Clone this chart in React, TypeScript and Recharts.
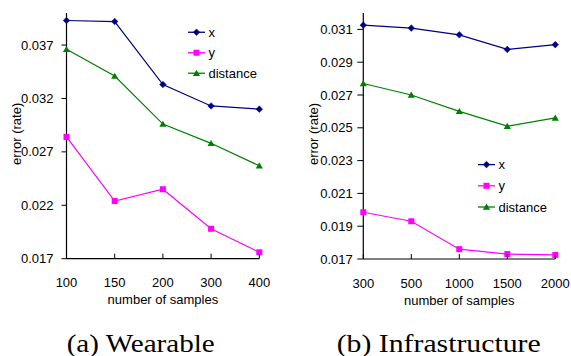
import React from 'react';
import { LineChart, Line, XAxis, YAxis, Legend, Label } from 'recharts';

// ---- Data: (a) Wearable ----
const wearableCategories = ['100', '150', '200', '300', '400'];
const wearableX = [0.0393, 0.0392, 0.0333, 0.0313, 0.0310];
const wearableY = [0.0284, 0.0224, 0.0235, 0.0198, 0.0176];
const wearableDistance = [0.0366, 0.0341, 0.0296, 0.0278, 0.0257];
const wearableTicks = [0.017, 0.022, 0.027, 0.032, 0.037];
const wearableDomain = [0.017, 0.040];

// ---- Data: (b) Infrastructure ----
const infraCategories = ['300', '500', '1000', '1500', '2000'];
const infraX = [0.03126, 0.03108, 0.03067, 0.02978, 0.03007];
const infraY = [0.01985, 0.01930, 0.01760, 0.01730, 0.01725];
const infraDistance = [0.0277, 0.0270, 0.0260, 0.0251, 0.0256];
const infraTicks = [0.017, 0.019, 0.021, 0.023, 0.025, 0.027, 0.029, 0.031];
const infraDomain = [0.017, 0.032];

const seriesNames = ['x', 'y', 'distance'];
const captions = ['(a) Wearable', '(b) Infrastructure'];
const xTitle = 'number of samples';
const yTitle = 'error (rate)';

const COLORS: Record<string, string> = { x: '#000080', y: '#ff00ff', distance: '#008000' };
const SANS = '"Liberation Sans", Arial, Helvetica, sans-serif';
const SERIF = '"Liberation Serif", "Times New Roman", serif';

function buildRows(cats: string[], x: number[], y: number[], d: number[]) {
  return cats.map((c, i) => ({ category: c, x: x[i], y: y[i], distance: d[i] }));
}

function Marker({ kind, cx, cy }: { kind: string; cx: number; cy: number }) {
  const color = COLORS[kind];
  if (kind === 'x') {
    const r = 3.3;
    return <path d={`M${cx},${cy - r}L${cx + r},${cy}L${cx},${cy + r}L${cx - r},${cy}Z`} fill={color} stroke={color} strokeWidth={0.5} />;
  }
  if (kind === 'y') {
    const s = 3;
    return <rect x={cx - s} y={cy - s} width={2 * s} height={2 * s} fill={color} />;
  }
  const h = 3.4;
  return <path d={`M${cx},${cy - h}L${cx + 3.6},${cy + h * 0.8}L${cx - 3.6},${cy + h * 0.8}Z`} fill={color} />;
}

function makeDot(kind: string) {
  return (p: any) => {
    if (p.cx == null || p.cy == null) return <g key={`${kind}-${p.index}`} />;
    return <Marker key={`${kind}-${p.index}`} kind={kind} cx={p.cx} cy={p.cy} />;
  };
}

function makeLegend(rowGap: number) {
  return (props: any) => {
    const payload = ([...(props.payload || [])] as any[]).sort(
      (a, b) => seriesNames.indexOf(String(a.dataKey ?? a.value)) - seriesNames.indexOf(String(b.dataKey ?? b.value))
    );
    const h = rowGap * 3;
    return (
      <svg width={90} height={h} style={{ overflow: 'visible', display: 'block' }}>
        {payload.map((item: any, i: number) => {
          const kind = String(item.dataKey ?? item.value);
          const cy = rowGap / 2 + i * rowGap;
          return (
            <g key={kind}>
              <line x1={2} x2={19} y1={cy} y2={cy} stroke={COLORS[kind]} strokeWidth={1.3} />
              <Marker kind={kind} cx={10.5} cy={cy} />
              <text x={22.5} y={cy} dominantBaseline="central" fontSize={13} fontFamily={SANS} fill="#000">
                {item.value}
              </text>
            </g>
          );
        })}
      </svg>
    );
  };
}

function makeXTick() {
  return (p: any) => {
    const { x, y, payload } = p;
    return (
      <g>
        <line x1={x} x2={x} y1={y - 7} y2={y - 12} stroke="#000" strokeWidth={1} />
        <text x={x} y={y + 21.6} textAnchor="middle" fontSize={13} fontFamily={SANS} fill="#000">
          {payload.value}
        </text>
      </g>
    );
  };
}

type PanelProps = {
  rows: any[];
  ticks: number[];
  domain: number[];
  width: number;
  marginRight: number;
  marginBottom: number;
  yAxisWidth: number;
  yTickSize: number;
  yTickMargin: number;
  yLabelOffset: number;
  legendLeft: number;
  legendTop: number;
  legendGap: number;
};

function Panel(props: PanelProps) {
  const H = 320;
  return (
    <LineChart
      width={props.width}
      height={H}
      data={props.rows}
      margin={{ top: 13, right: props.marginRight, bottom: props.marginBottom, left: 10 }}
    >
      <XAxis
        dataKey="category"
        type="category"
        scale="point"
        padding={{ left: 0, right: 0 }}
        height={50}
        axisLine={{ stroke: '#000', strokeWidth: 1.2 }}
        tickLine={false}
        tickSize={5}
        tickMargin={2}
        tick={makeXTick()}
        interval={0}
      >
        <Label
          content={(lp: any) => {
            const vb = lp.viewBox || {};
            return (
              <text x={vb.x + vb.width / 2} y={vb.y + 45.5} textAnchor="middle" fontSize={13} fontFamily={SANS} fill="#000">
                {xTitle}
              </text>
            );
          }}
        />
      </XAxis>
      <YAxis
        type="number"
        domain={props.domain}
        ticks={props.ticks}
        allowDataOverflow
        width={props.yAxisWidth}
        axisLine={{ stroke: '#000', strokeWidth: 1.2 }}
        tickLine={{ stroke: '#000' }}
        tickSize={props.yTickSize}
        tickMargin={props.yTickMargin}
        tick={{ fontSize: 13, fontFamily: SANS, fill: '#000' }}
        tickFormatter={(v: number) => v.toFixed(3)}
        interval={0}
      >
        <Label
          content={(lp: any) => {
            const vb = lp.viewBox || {};
            const cx = vb.x + props.yLabelOffset;
            const cy = vb.y + vb.height / 2 - 2;
            return (
              <text
                x={cx}
                y={cy}
                transform={`rotate(-90, ${cx}, ${cy})`}
                textAnchor="middle"
                dominantBaseline="central"
                fontSize={13}
                fontFamily={SANS}
                fill="#000"
              >
                {yTitle}
              </text>
            );
          }}
        />
      </YAxis>
      <Legend
        layout="vertical"
        align="center"
        verticalAlign="middle"
        itemSorter={null as any}
        wrapperStyle={{ left: props.legendLeft, top: props.legendTop, width: 90, right: 'auto', bottom: 'auto' }}
        content={makeLegend(props.legendGap)}
      />
      {seriesNames.map((name) => (
        <Line
          key={name}
          dataKey={name}
          name={name}
          stroke={COLORS[name]}
          strokeWidth={1.2}
          dot={makeDot(name)}
          activeDot={false}
          isAnimationActive={false}
          type="linear"
        />
      ))}
    </LineChart>
  );
}

export default function App() {
  const leftRows = buildRows(wearableCategories, wearableX, wearableY, wearableDistance);
  const rightRows = buildRows(infraCategories, infraX, infraY, infraDistance);
  return (
    <div style={{ position: 'absolute', left: 0, top: 0, width: 571, height: 356, background: '#fff', overflow: 'hidden' }}>
      <div style={{ position: 'absolute', left: 0, top: 0 }}>
        <Panel
          rows={leftRows}
          ticks={wearableTicks}
          domain={wearableDomain}
          width={290}
          marginRight={30.7}
          marginBottom={11.3}
          yAxisWidth={56.5}
          yTickSize={5}
          yTickMargin={8}
          yLabelOffset={7}
          legendLeft={186}
          legendTop={22}
          legendGap={20.5}
        />
      </div>
      <div style={{ position: 'absolute', left: 290, top: 0 }}>
        <Panel
          rows={rightRows}
          ticks={infraTicks}
          domain={infraDomain}
          width={281}
          marginRight={15.7}
          marginBottom={11}
          yAxisWidth={63.3}
          yTickSize={6}
          yTickMargin={4.5}
          yLabelOffset={13.5}
          legendLeft={186}
          legendTop={154}
          legendGap={21.2}
        />
      </div>
      <svg width={571} height={356} style={{ position: 'absolute', left: 0, top: 0, pointerEvents: 'none' }}>
        <text x={66.7} y={351.5} fontSize={25} fontFamily={SERIF} fill="#000" textLength={148} lengthAdjust="spacingAndGlyphs">
          {captions[0]}
        </text>
        <text x={336.7} y={351.5} fontSize={25} fontFamily={SERIF} fill="#000" textLength={204} lengthAdjust="spacingAndGlyphs">
          {captions[1]}
        </text>
      </svg>
    </div>
  );
}
